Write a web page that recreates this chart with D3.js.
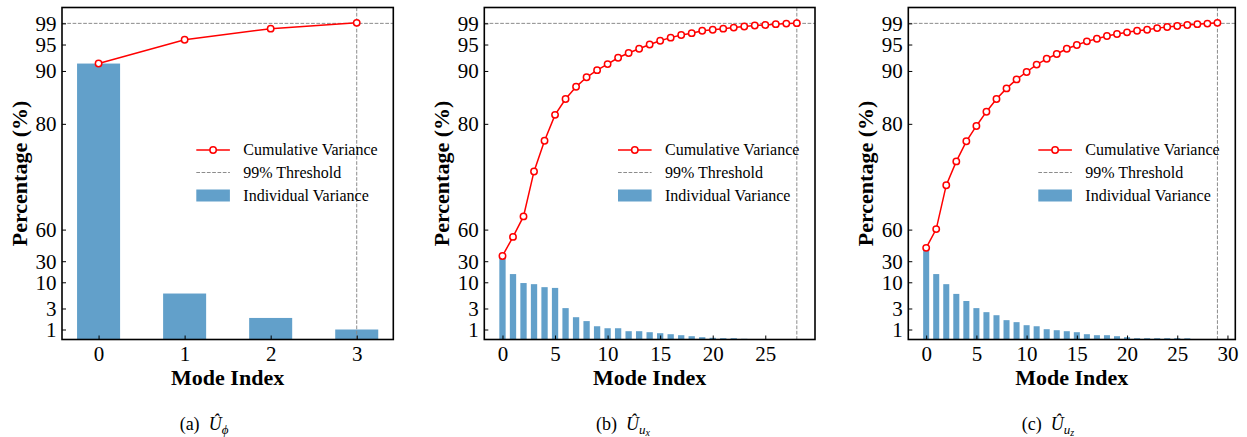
<!DOCTYPE html>
<html><head><meta charset="utf-8">
<script src="https://cdn.jsdelivr.net/npm/d3@7"></script>
<style>body{margin:0;background:#fff} svg{display:block} text{font-family:"Liberation Serif","DejaVu Serif",serif;}</style>
</head><body><svg id="chart" width="1247" height="437"></svg>
<script>
// ---------- data ----------
const modesA = [0, 1, 2, 3];
const individualA = [91.4, 7.0, 2.1, 1.0];
const cumulativeA = [91.4, 95.9, 98.0, 99.1];
const thresholdIndexA = 3;

const modesB = d3.range(29);
const individualB = [32.9, 17.8, 9.8, 9.5, 8.7, 8.5, 3.1, 2.17, 1.8, 1.31, 1.12, 1.12, 0.83, 0.83, 0.73,
                     0.63, 0.53, 0.43, 0.33, 0.23, 0.17, 0.13, 0.13, 0.07, 0.03, 0.03, 0.03, 0.03, 0.03];
const cumulativeB = [35.0, 53.1, 62.5, 71.0, 76.8, 81.7, 84.7, 87.0, 88.8, 90.15, 91.3, 92.5, 93.4, 94.2, 95.0,
                     95.7, 96.3, 96.8, 97.15, 97.6, 97.8, 98.0, 98.2, 98.4, 98.6, 98.7, 98.85, 98.96, 99.04];
const thresholdIndexB = 28;

const modesC = d3.range(30);
const individualC = [41.0, 17.8, 9.5, 6.9, 5.0, 3.1, 2.65, 2.36, 1.89, 1.7, 1.41, 1.31, 1.03, 0.93, 0.83,
                     0.73, 0.53, 0.43, 0.43, 0.33, 0.23, 0.13, 0.13, 0.13, 0.13, 0.13, 0.12, 0.03, 0.03, 0.03];
const cumulativeC = [42.7, 60.1, 68.4, 72.9, 76.7, 79.6, 82.3, 84.7, 86.7, 88.4, 89.8, 91.2, 92.3, 93.2, 94.2,
                     94.9, 95.6, 96.1, 96.6, 97.0, 97.3, 97.6, 97.8, 98.1, 98.3, 98.5, 98.7, 98.85, 98.96, 99.1];
const thresholdIndexC = 29;

const thresholdValue = 99;
const yTickValues = [1, 3, 10, 30, 60, 80, 90, 95, 99];
const xTicksA = [0, 1, 2, 3];
const xTicksB = [0, 5, 10, 15, 20, 25];
const xTicksC = [0, 5, 10, 15, 20, 25, 30];
const legendLabels = ["Cumulative Variance", "99% Threshold", "Individual Variance"];
const xLabel = "Mode Index";
const yLabel = "Percentage (%)";

// ---------- styling / layout ----------
const FONT = "'Liberation Serif','DejaVu Serif',serif";
const BAR = "#62a0ca", RED = "#ff0000", GRAY = "#8c8c8c";
const plotTop = 7.5, plotBottom = 339.5;
// custom piecewise axis (value breakpoints -> fraction of plot height)
const yBreaks = [0, 1, 3, 10, 30, 60, 102];
const yFrac = [0, 0.0301, 0.0934, 0.1723, 0.2358, 0.3310, 1];
const y = d3.scaleLinear().domain(yBreaks).range(yFrac.map(f => plotBottom - f * (plotBottom - plotTop)));

const panels = [
  {modes: modesA, ind: individualA, cum: cumulativeA, thr: thresholdIndexA, ticks: xTicksA,
   left: 62, right: 393.3, barW: 0.5, cap: "a", sub: "ϕ", subsub: null, capX: 204},
  {modes: modesB, ind: individualB, cum: cumulativeB, thr: thresholdIndexB, ticks: xTicksB,
   left: 484.3, right: 815, barW: 0.6, cap: "b", sub: "u", subsub: "x", capX: 623},
  {modes: modesC, ind: individualC, cum: cumulativeC, thr: thresholdIndexC, ticks: xTicksC,
   left: 908.3, right: 1235.3, barW: 0.6, cap: "c", sub: "u", subsub: "z", capX: 1048}
];

const svg = d3.select("#chart");
svg.append("rect").attr("width", 1247).attr("height", 437).attr("fill", "#fff");

panels.forEach(p => {
  const n = p.modes.length;
  const lo = -p.barW / 2, hi = (n - 1) + p.barW / 2;
  const m = (hi - lo) * 0.05;
  const x = d3.scaleLinear().domain([lo - m, hi + m]).range([p.left, p.right]);
  const g = svg.append("g");
  const bw = x(p.barW) - x(0);

  // bars
  g.selectAll("rect.bar").data(p.modes).join("rect")
    .attr("x", i => x(i) - bw / 2).attr("width", bw)
    .attr("y", i => y(p.ind[i])).attr("height", i => y(0) - y(p.ind[i]))
    .attr("fill", BAR);

  // threshold lines
  g.append("line").attr("x1", p.left).attr("x2", p.right)
    .attr("y1", y(thresholdValue)).attr("y2", y(thresholdValue))
    .attr("stroke", GRAY).attr("stroke-width", 1).attr("stroke-dasharray", "3.7,1.6");
  g.append("line").attr("x1", x(p.thr)).attr("x2", x(p.thr))
    .attr("y1", plotTop).attr("y2", plotBottom)
    .attr("stroke", GRAY).attr("stroke-width", 1).attr("stroke-dasharray", "3.7,1.6");

  // cumulative line
  const line = d3.line().x(i => x(i)).y(i => y(p.cum[i]));
  g.append("path").datum(p.modes).attr("d", line)
    .attr("fill", "none").attr("stroke", RED).attr("stroke-width", 1.5);
  g.selectAll("circle.pt").data(p.modes).join("circle")
    .attr("cx", i => x(i)).attr("cy", i => y(p.cum[i])).attr("r", 3.2)
    .attr("fill", "#fff").attr("stroke", RED).attr("stroke-width", 1.5);

  // axes (ticks inward)
  const ya = d3.axisLeft(y).tickValues(yTickValues).tickSize(-4).tickPadding(5.5).tickFormat(d3.format("d"));
  const yg = g.append("g").attr("transform", `translate(${p.left},0)`).call(ya);
  const xa = d3.axisBottom(x).tickValues(p.ticks).tickSize(-4).tickPadding(9).tickFormat(d3.format("d"));
  const xg = g.append("g").attr("transform", `translate(0,${plotBottom})`).call(xa);
  [yg, xg].forEach(a => {
    a.select(".domain").remove();
    a.attr("font-family", FONT);
    a.selectAll(".tick line").attr("stroke", "#000").attr("stroke-width", 1);
    a.selectAll(".tick text").style("font-family", FONT).attr("font-size", 21).attr("fill", "#000");
  });
  yg.selectAll(".tick text").attr("dy", "0.33em");
  xg.selectAll(".tick text").attr("dy", 0).attr("y", 21);

  // frame
  g.append("rect").attr("x", p.left).attr("y", plotTop)
    .attr("width", p.right - p.left).attr("height", plotBottom - plotTop)
    .attr("fill", "none").attr("stroke", "#000").attr("stroke-width", 1.6);

  // axis labels
  g.append("text").attr("x", (p.left + p.right) / 2).attr("y", plotBottom + 45)
    .attr("text-anchor", "middle").style("font-family", FONT).attr("font-size", 22)
    .attr("font-weight", "bold").text(xLabel);
  g.append("text").attr("transform", `translate(${p.left - 35},${(plotTop + plotBottom) / 2}) rotate(-90)`)
    .attr("text-anchor", "middle").style("font-family", FONT).attr("font-size", 22)
    .attr("font-weight", "bold").text(yLabel);

  // legend
  const lx = p.right - 197, tx = lx + 47;
  const rows = [150, 172.5, 195.5];
  g.append("line").attr("x1", lx).attr("x2", lx + 33.6).attr("y1", rows[0]).attr("y2", rows[0])
    .attr("stroke", RED).attr("stroke-width", 1.5);
  g.append("circle").attr("cx", lx + 16.8).attr("cy", rows[0]).attr("r", 3.2)
    .attr("fill", "#fff").attr("stroke", RED).attr("stroke-width", 1.5);
  g.append("line").attr("x1", lx).attr("x2", lx + 33.6).attr("y1", rows[1]).attr("y2", rows[1])
    .attr("stroke", GRAY).attr("stroke-width", 1).attr("stroke-dasharray", "3.7,1.6");
  g.append("rect").attr("x", lx).attr("y", rows[2] - 6).attr("width", 33.6).attr("height", 12)
    .attr("fill", BAR);
  legendLabels.forEach((t, k) => {
    g.append("text").attr("x", tx).attr("y", rows[k]).attr("dy", "0.33em")
      .style("font-family", FONT).attr("font-size", 16).attr("fill", "#000").text(t);
  });

  // caption
  const cap = g.append("text").attr("x", p.capX).attr("y", 430).attr("text-anchor", "middle")
    .style("font-family", FONT).attr("font-size", 18).attr("fill", "#000");
  cap.append("tspan").text(`(${p.cap})\u2002`);
  cap.append("tspan").attr("font-style", "italic").text("Û");
  cap.append("tspan").attr("font-style", "italic").attr("font-size", 13).attr("dy", 3.5).text(p.sub);
  if (p.subsub) cap.append("tspan").attr("font-style", "italic").attr("font-size", 10).attr("dy", 2.5).text(p.subsub);
});
</script>
</body></html>
